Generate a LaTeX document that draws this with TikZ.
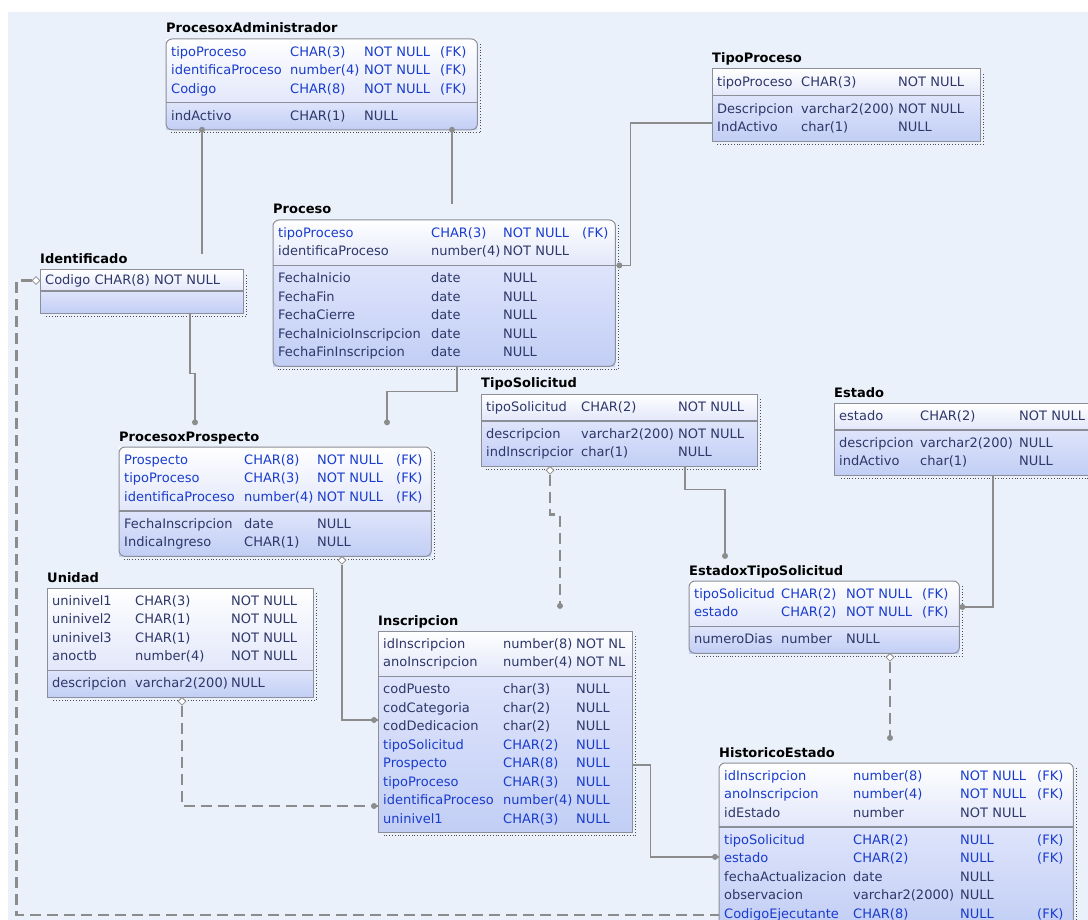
\documentclass[tikz,border=0pt]{standalone}
\usepackage{fontspec}
\setmainfont{DejaVu Sans}
\usepackage{array}
\usepackage{tikz}
\usetikzlibrary{calc,shapes.geometric}

\definecolor{canvas}{RGB}{234,241,250}
\definecolor{tabgrey}{RGB}{140,142,152}
\definecolor{keybot}{RGB}{226,231,250}
\definecolor{attrtop}{RGB}{222,228,251}
\definecolor{attrbot}{RGB}{194,206,245}
\definecolor{txtdark}{RGB}{45,55,105}
\definecolor{fkblue}{RGB}{25,60,205}
\definecolor{relgrey}{RGB}{140,140,140}

\newcommand{\fk}[1]{\textcolor{fkblue}{#1}}

\tikzset{
  tabtitle/.style={anchor=base west, inner sep=0pt, font=\fontsize{13}{15}\selectfont\bfseries, text=black},
  keypart/.style={anchor=north west, inner xsep=5pt, inner ysep=4pt, top color=white, bottom color=keybot,
    text=txtdark, font=\fontsize{13}{18.5}\selectfont, align=left},
  attrpart/.style={keypart, top color=attrtop, bottom color=attrbot},
  taboutline/.style={draw=tabgrey, line width=1pt},
  tabsep/.style={draw=tabgrey, line width=1.2pt},
  tabshadow/.style={draw=black!70, line width=0.8pt, dotted},
  rel/.style={draw=relgrey, line width=1.6pt},
  nonid/.style={draw=relgrey, line width=2.6pt, dash pattern=on 11pt off 6pt},
  reldot/.style={fill=relgrey},
  reldia/.style={diamond, draw=relgrey, fill=white, line width=0.8pt, inner sep=0pt, minimum size=8pt}
}

\begin{document}
\begin{tikzpicture}[x=1pt, y=-1pt]

        \useasboundingbox (0,0) rectangle (1088,920);
        \clip (0,0) rectangle (1088,920);
        \fill[canvas] (8,12) rectangle (1088,920);

        % ProcesoxAdministrador
        \node[keypart, text width=301pt] (PAk) at (166,39) {\noindent\begin{tabular}{@{}w{l}{119pt}@{}w{l}{74pt}@{}w{l}{76pt}@{}l@{}}
            \fk{tipoProceso} & \fk{CHAR(3)} & \fk{NOT NULL} & \fk{(FK)}\\
            \fk{identificaProceso} & \fk{number(4)} & \fk{NOT NULL} & \fk{(FK)}\\
            \fk{Codigo} & \fk{CHAR(8)} & \fk{NOT NULL} & \fk{(FK)}
          \end{tabular}};
        \node[attrpart, text width=301pt] (PAa) at (PAk.south west) {\noindent\begin{tabular}{@{}w{l}{119pt}@{}w{l}{74pt}@{}l@{}}
            indActivo & CHAR(1) & NULL
          \end{tabular}};
        \node[tabtitle] (PAt) at ([yshift=6pt]PAk.north west) {ProcesoxAdministrador};

        % TipoProceso
        \node[keypart, text width=258pt] (TPk) at (712,69) {\noindent\begin{tabular}{@{}w{l}{84pt}@{}w{l}{97pt}@{}l@{}}
            tipoProceso & CHAR(3) & NOT NULL
          \end{tabular}};
        \node[attrpart, text width=258pt] (TPa) at (TPk.south west) {\noindent\begin{tabular}{@{}w{l}{84pt}@{}w{l}{97pt}@{}l@{}}
            Descripcion & varchar2(200) & NOT NULL\\
            IndActivo & char(1) & NULL
          \end{tabular}};
        \node[tabtitle] (TPt) at ([yshift=6pt]TPk.north west) {TipoProceso};

        % Proceso
        \node[keypart, text width=332pt] (Pk) at (273,220) {\noindent\begin{tabular}{@{}w{l}{153pt}@{}w{l}{72pt}@{}w{l}{79pt}@{}l@{}}
            \fk{tipoProceso} & \fk{CHAR(3)} & \fk{NOT NULL} & \fk{(FK)}\\
            identificaProceso & number(4) & NOT NULL &
          \end{tabular}};
        \node[attrpart, text width=332pt] (Pa) at (Pk.south west) {\noindent\begin{tabular}{@{}w{l}{153pt}@{}w{l}{72pt}@{}l@{}}
            FechaInicio & date & NULL\\
            FechaFin & date & NULL\\
            FechaCierre & date & NULL\\
            FechaInicioInscripcion & date & NULL\\
            FechaFinInscripcion & date & NULL
          \end{tabular}};
        \node[tabtitle] (Pt) at ([yshift=6pt]Pk.north west) {Proceso};

        % Identificado
        \node[keypart, text width=193pt] (IDk) at (40,270) {Codigo CHAR(8) NOT NULL};
        \node[attrpart, text width=193pt, minimum height=22pt] (IDa) at (IDk.south west) {};
        \node[tabtitle] (IDt) at ([yshift=6pt]IDk.north west) {Identificado};

        % TipoSolicitud
        \node[keypart, text width=266pt] (TSk) at (481,394) {\noindent\begin{tabular}{@{}w{l}{95pt}@{}w{l}{97pt}@{}l@{}}
            tipoSolicitud & CHAR(2) & NOT NULL
          \end{tabular}};
        \node[attrpart, text width=266pt] (TSa) at (TSk.south west) {\noindent\begin{tabular}{@{}w{l}{95pt}@{}w{l}{97pt}@{}l@{}}
            descripcion & varchar2(200) & NOT NULL\\
            indInscripcior & char(1) & NULL
          \end{tabular}};
        \node[tabtitle] (TSt) at ([yshift=6pt]TSk.north west) {TipoSolicitud};

        % Estado
        \node[keypart, text width=260pt] (Ek) at (834,403) {\noindent\begin{tabular}{@{}w{l}{81pt}@{}w{l}{99pt}@{}l@{}}
            estado & CHAR(2) & NOT NULL
          \end{tabular}};
        \node[attrpart, text width=260pt] (Ea) at (Ek.south west) {\noindent\begin{tabular}{@{}w{l}{81pt}@{}w{l}{99pt}@{}l@{}}
            descripcion & varchar2(200) & NULL\\
            indActivo & char(1) & NULL
          \end{tabular}};
        \node[tabtitle] (Et) at ([yshift=6pt]Ek.north west) {Estado};

        % ProcesoxProspecto
        \node[keypart, text width=302pt] (PPk) at (119,447) {\noindent\begin{tabular}{@{}w{l}{120pt}@{}w{l}{73pt}@{}w{l}{79pt}@{}l@{}}
            \fk{Prospecto} & \fk{CHAR(8)} & \fk{NOT NULL} & \fk{(FK)}\\
            \fk{tipoProceso} & \fk{CHAR(3)} & \fk{NOT NULL} & \fk{(FK)}\\
            \fk{identificaProceso} & \fk{number(4)} & \fk{NOT NULL} & \fk{(FK)}
          \end{tabular}};
        \node[attrpart, text width=302pt] (PPa) at (PPk.south west) {\noindent\begin{tabular}{@{}w{l}{120pt}@{}w{l}{73pt}@{}l@{}}
            FechaInscripcion & date & NULL\\
            IndicaIngreso & CHAR(1) & NULL
          \end{tabular}};
        \node[tabtitle] (PPt) at ([yshift=6pt]PPk.north west) {ProcesoxProspecto};

        % Unidad
        \node[keypart, text width=256pt] (Uk) at (47,588) {\noindent\begin{tabular}{@{}w{l}{83pt}@{}w{l}{96pt}@{}l@{}}
            uninivel1 & CHAR(3) & NOT NULL\\
            uninivel2 & CHAR(1) & NOT NULL\\
            uninivel3 & CHAR(1) & NOT NULL\\
            anoctb & number(4) & NOT NULL
          \end{tabular}};
        \node[attrpart, text width=256pt] (Ua) at (Uk.south west) {\noindent\begin{tabular}{@{}w{l}{83pt}@{}w{l}{96pt}@{}l@{}}
            descripcion & varchar2(200) & NULL
          \end{tabular}};
        \node[tabtitle] (Ut) at ([yshift=6pt]Uk.north west) {Unidad};

        % Inscripcion
        \node[keypart, text width=244pt] (Ik) at (378,631) {\noindent\begin{tabular}{@{}w{l}{120pt}@{}w{l}{73pt}@{}l@{}}
            idInscripcion & number(8) & NOT NL\\
            anoInscripcion & number(4) & NOT NL
          \end{tabular}};
        \node[attrpart, text width=244pt] (Ia) at (Ik.south west) {\noindent\begin{tabular}{@{}w{l}{120pt}@{}w{l}{73pt}@{}l@{}}
            codPuesto & char(3) & NULL\\
            codCategoria & char(2) & NULL\\
            codDedicacion & char(2) & NULL\\
            \fk{tipoSolicitud} & \fk{CHAR(2)} & \fk{NULL}\\
            \fk{Prospecto} & \fk{CHAR(8)} & \fk{NULL}\\
            \fk{tipoProceso} & \fk{CHAR(3)} & \fk{NULL}\\
            \fk{identificaProceso} & \fk{number(4)} & \fk{NULL}\\
            \fk{uninivel1} & \fk{CHAR(3)} & \fk{NULL}
          \end{tabular}};
        \node[tabtitle] (It) at ([yshift=6pt]Ik.north west) {Inscripcion};

        % EstadoxTipoSolicitud
        \node[keypart, text width=260pt] (ETk) at (689,581) {\noindent\begin{tabular}{@{}w{l}{87pt}@{}w{l}{65pt}@{}w{l}{76pt}@{}l@{}}
            \fk{tipoSolicitud} & \fk{CHAR(2)} & \fk{NOT NULL} & \fk{(FK)}\\
            \fk{estado} & \fk{CHAR(2)} & \fk{NOT NULL} & \fk{(FK)}
          \end{tabular}};
        \node[attrpart, text width=260pt] (ETa) at (ETk.south west) {\noindent\begin{tabular}{@{}w{l}{87pt}@{}w{l}{65pt}@{}l@{}}
            numeroDias & number & NULL
          \end{tabular}};
        \node[tabtitle] (ETt) at ([yshift=6pt]ETk.north west) {EstadoxTipoSolicitud};

        % HistoricoEstado
        \node[keypart, text width=344pt] (Hk) at (719,763) {\noindent\begin{tabular}{@{}w{l}{129pt}@{}w{l}{107pt}@{}w{l}{77pt}@{}l@{}}
            \fk{idInscripcion} & \fk{number(8)} & \fk{NOT NULL} & \fk{(FK)}\\
            \fk{anoInscripcion} & \fk{number(4)} & \fk{NOT NULL} & \fk{(FK)}\\
            idEstado & number & NOT NULL &
          \end{tabular}};
        \node[attrpart, text width=344pt] (Ha) at (Hk.south west) {\noindent\begin{tabular}{@{}w{l}{129pt}@{}w{l}{107pt}@{}w{l}{77pt}@{}l@{}}
            \fk{tipoSolicitud} & \fk{CHAR(2)} & \fk{NULL} & \fk{(FK)}\\
            \fk{estado} & \fk{CHAR(2)} & \fk{NULL} & \fk{(FK)}\\
            fechaActualizacion & date & NULL &\\
            observacion & varchar2(2000) & NULL &\\
            \fk{CodigoEjecutante} & \fk{CHAR(8)} & \fk{NULL} & \fk{(FK)}
          \end{tabular}};
        \node[tabtitle] (Ht) at ([yshift=6pt]Hk.north west) {HistoricoEstado};

        % frames, rounded ones for the dependent tables
        \draw[taboutline, rounded corners=6pt] (PAk.north west) rectangle (PAa.south east);
        \draw[taboutline, rounded corners=6pt] (Pk.north west) rectangle (Pa.south east);
        \draw[taboutline, rounded corners=6pt] (PPk.north west) rectangle (PPa.south east);
        \draw[taboutline, rounded corners=6pt] (ETk.north west) rectangle (ETa.south east);
        \draw[taboutline, rounded corners=6pt] (Hk.north west) rectangle (Ha.south east);
        \draw[taboutline] (TPk.north west) rectangle (TPa.south east);
        \draw[taboutline] (IDk.north west) rectangle (IDa.south east);
        \draw[taboutline] (TSk.north west) rectangle (TSa.south east);
        \draw[taboutline] (Ek.north west) rectangle (Ea.south east);
        \draw[taboutline] (Uk.north west) rectangle (Ua.south east);
        \draw[taboutline] (Ik.north west) rectangle (Ia.south east);

        % key / non key separators
        \draw[tabsep] (PAk.south west) -- (PAk.south east);
        \draw[tabsep] (TPk.south west) -- (TPk.south east);
        \draw[tabsep] (Pk.south west) -- (Pk.south east);
        \draw[tabsep] (IDk.south west) -- (IDk.south east);
        \draw[tabsep] (TSk.south west) -- (TSk.south east);
        \draw[tabsep] (Ek.south west) -- (Ek.south east);
        \draw[tabsep] (PPk.south west) -- (PPk.south east);
        \draw[tabsep] (Uk.south west) -- (Uk.south east);
        \draw[tabsep] (Ik.south west) -- (Ik.south east);
        \draw[tabsep] (ETk.south west) -- (ETk.south east);
        \draw[tabsep] (Hk.south west) -- (Hk.south east);

        % dotted shadows
        \draw[tabshadow] ([xshift=3pt,yshift=-5pt]PAk.north east) |- ([xshift=5pt,yshift=-3pt]PAa.south west);
        \draw[tabshadow] ([xshift=3pt,yshift=-5pt]TPk.north east) |- ([xshift=5pt,yshift=-3pt]TPa.south west);
        \draw[tabshadow] ([xshift=3pt,yshift=-5pt]Pk.north east) |- ([xshift=5pt,yshift=-3pt]Pa.south west);
        \draw[tabshadow] ([xshift=3pt,yshift=-5pt]IDk.north east) |- ([xshift=5pt,yshift=-3pt]IDa.south west);
        \draw[tabshadow] ([xshift=3pt,yshift=-5pt]TSk.north east) |- ([xshift=5pt,yshift=-3pt]TSa.south west);
        \draw[tabshadow] ([xshift=3pt,yshift=-5pt]Ek.north east) |- ([xshift=5pt,yshift=-3pt]Ea.south west);
        \draw[tabshadow] ([xshift=3pt,yshift=-5pt]PPk.north east) |- ([xshift=5pt,yshift=-3pt]PPa.south west);
        \draw[tabshadow] ([xshift=3pt,yshift=-5pt]Uk.north east) |- ([xshift=5pt,yshift=-3pt]Ua.south west);
        \draw[tabshadow] ([xshift=3pt,yshift=-5pt]Ik.north east) |- ([xshift=5pt,yshift=-3pt]Ia.south west);
        \draw[tabshadow] ([xshift=3pt,yshift=-5pt]ETk.north east) |- ([xshift=5pt,yshift=-3pt]ETa.south west);
        \draw[tabshadow] ([xshift=3pt,yshift=-5pt]Hk.north east) |- ([xshift=5pt,yshift=-3pt]Ha.south west);

        % identifying relationships
        \draw[rel] ([xshift=36pt]PAa.south west) coordinate (PAf1) -- (PAf1 |- IDt.north);
        \draw[rel] ([xshift=286pt]PAa.south west) coordinate (PAf2) -- (PAf2 |- Pt.north);
        \draw[rel] ([yshift=-27pt]TPa.north west) -| ([xshift=15pt]Pk.south east) -- (Pk.south east) coordinate (Pf1);
        \draw[rel] ([xshift=150pt]IDa.south west) -- ++(0,60) -| ([xshift=76pt,yshift=9pt]PPt.north west) coordinate (PPf1);
        \draw[rel] ([xshift=184pt]Pa.south west) -- ++(0,25) -| ([xshift=268pt,yshift=9pt]PPt.north west) coordinate (PPf2);
        \draw[rel] ([xshift=204pt]TSa.south west) -- ++(0,23) -| ([xshift=36pt,yshift=9pt]ETt.north west) coordinate (ETf1);
        \draw[rel] ([xshift=159pt]Ea.south west) |- ([yshift=-26pt]ETk.north east) coordinate (ETf2);
        \draw[rel] ([yshift=-134pt]Ik.north east) -- ++(18,0) |- ([yshift=-30pt]Ha.north west) coordinate (Hf2);

        % Dashed lines
        \node[reldia] (TSd) at ([xshift=69pt,yshift=-4pt]TSa.south west) {};
        \node[reldia] (ETd) at ([xshift=201pt,yshift=-4pt]ETa.south west) {};
        \node[reldia] (PPd) at ([xshift=223pt,yshift=-4pt]PPa.south west) {};
        \node[reldia] (Ud) at ([xshift=135pt,yshift=-4pt]Ua.south west) {};
        \node[reldia] (IDd) at ([xshift=-4pt]IDk.west) {};

        \draw[nonid] (TSd.south) -- ++(0,40) -| ([xshift=182pt,yshift=9pt]It.north west) coordinate (If1);
        \draw[nonid] (ETd.south) -- ([xshift=171pt,yshift=9pt]Ht.north west) coordinate (Hf1);
        \draw[rel] (PPd.south) |- ([yshift=-89pt]Ik.north west) coordinate (If2);
        \draw[nonid] (Ud.south) |- ([yshift=-175pt]Ik.north west) coordinate (If3);
        \draw[nonid] (IDd.west) -- ++(-15,0) |- ([yshift=-152pt]Hk.north west) coordinate (Hf3);

        % grey dots
        \fill[reldot] (PAf1) circle (3pt);
        \fill[reldot] (PAf2) circle (3pt);
        \fill[reldot] ([xshift=4pt]Pf1) circle (3pt);
        \fill[reldot] (PPf1) circle (3pt);
        \fill[reldot] (PPf2) circle (3pt);
        \fill[reldot] (ETf1) circle (3pt);
        \fill[reldot] ([xshift=3pt]ETf2) circle (3pt);
        \fill[reldot] (If1) circle (3pt);
        \fill[reldot] ([xshift=-4pt]If2) circle (3pt);
        \fill[reldot] ([xshift=-4pt]If3) circle (3pt);
        \fill[reldot] (Hf1) circle (3pt);
        \fill[reldot] ([xshift=-4pt]Hf2) circle (3pt);

    \end{tikzpicture}
\end{document}
